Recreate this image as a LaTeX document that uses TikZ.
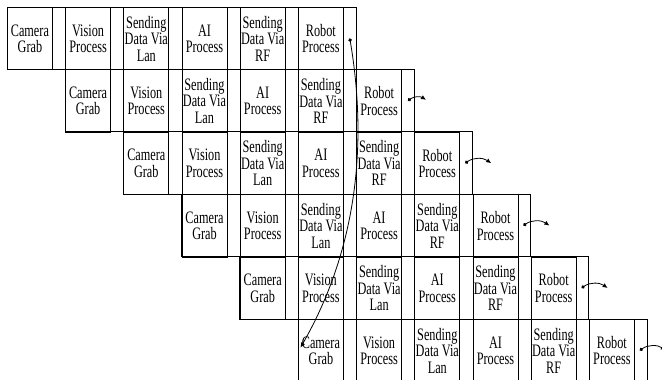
\documentclass[tikz,border=0pt]{standalone}
\usepackage{fontspec}
\setmainfont{Liberation Serif}[FakeStretch=0.7]
\usetikzlibrary{arrows.meta}
\begin{document}
\begin{tikzpicture}[x=1pt,y=-1pt,
  cellbox/.style={draw=black, line width=0.8pt, minimum width=45pt, minimum height=62.4pt, inner sep=0pt, align=center, anchor=north west, font=\fontsize{17.5}{16.5}\selectfont},
  gapbox/.style={minimum width=13.2pt, minimum height=62.4pt, inner sep=0pt, anchor=north west},
  rowbox/.style={draw=black, line width=0.8pt},
  flow/.style={line width=0.8pt, {Circle[length=3.5pt]}-{Latex[length=5pt,width=4.5pt]}}
]
\useasboundingbox (0,0) rectangle (662,380);
\clip (0,0) rectangle (662,380);
\foreach \r in {0,...,5} {
  \pgfmathsetmacro{\xo}{7+58.2*\r}
  \pgfmathsetmacro{\yo}{7+62.4*\r}
  \draw[rowbox] (\xo,\yo) rectangle ++(349,62.4);
  \foreach \k/\t in {0/{Camera\\Grab}, 1/{Vision\\Process}, 2/{Sending\\Data Via\\Lan}, 3/{AI\\Process}, 4/{Sending\\Data Via\\RF}, 5/{Robot\\Process}} {
    \node[cellbox] (c-\r-\k) at ({\xo+58.2*\k},\yo) {\t};
    \node[gapbox] (g-\r-\k) at ({\xo+58.2*\k+45},\yo) {};
  }
}
\draw[flow] (g-0-5.center) .. controls (372,170) and (345,270) .. ([xshift=2.5pt,yshift=3pt]c-5-0.west);
\coordinate (e-1) at ([xshift=18pt,yshift=1pt]g-1-5.center);
\draw[flow] (g-1-5.center) to[bend left=35] (e-1);
\foreach \r in {2,...,5} {
  \coordinate (e-\r) at ([xshift=25pt]g-\r-5.center);
  \draw[flow] ([xshift=-1pt]g-\r-5.center) to[bend left=35] (e-\r);
}
\end{tikzpicture}
\end{document}
